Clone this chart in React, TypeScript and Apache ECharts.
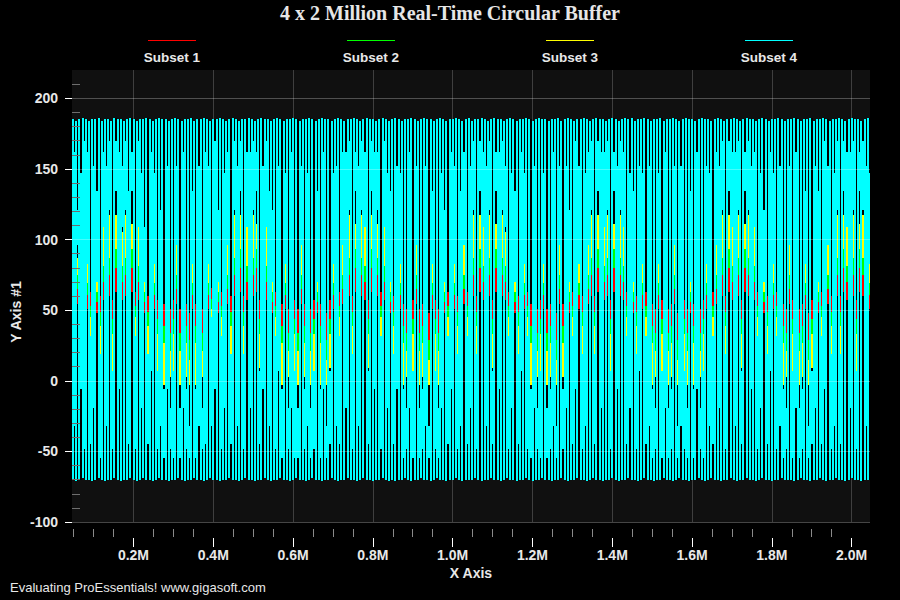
import React, { useEffect, useRef } from "react";
import * as echarts from "echarts";

// ---------- axis ranges & tick values ----------
const X_MIN = 46000;
const X_MAX = 2046000;
const STEP = 8000; // one drawn column group per 8000 samples

const xMajorTicks = [200000, 400000, 600000, 800000, 1000000, 1200000, 1400000, 1600000, 1800000, 2000000];
const xMinorTicks = [
  50000, 100000, 150000, 250000, 300000, 350000, 450000, 500000, 550000, 650000, 700000, 750000,
  850000, 900000, 950000, 1050000, 1100000, 1150000, 1250000, 1300000, 1350000, 1450000, 1500000,
  1550000, 1650000, 1700000, 1750000, 1850000, 1900000, 1950000,
];
const yMajorTicks = [-100, -50, 0, 50, 100, 150, 200];
const yMinorTicks = [
  -90, -80, -70, -60, -40, -30, -20, -10, 10, 20, 30, 40, 60, 70, 80, 90, 110, 120, 130, 140, 160,
  170, 180, 190, 210,
];

const seriesNames = ["Subset 1", "Subset 2", "Subset 3", "Subset 4"];
const seriesColors = ["#ff0000", "#00ff00", "#ffff00", "#00ffff"];

// ---------- Subset 4 (cyan) envelope of each full column ----------
const cyanMax = [
  185,184,185,186,185,184,185,185,186,184,185,185,184,186,185,185,184,185,186,185,184,185,185,186,185,
  184,185,186,185,185,184,185,186,185,184,185,185,186,184,185,185,186,185,184,185,185,186,185,184,185,
  186,185,184,185,185,186,185,184,185,186,185,185,184,185,186,185,184,185,185,186,185,184,185,185,186,
  185,184,185,186,185,185,184,185,186,185,184,185,185,186,185,184,185,186,185,185,184,185,186,185,184,
  185,186,185,184,185,185,186,185,184,185,186,185,185,184,185,186,185,184,185,185,186,185,184,185,186,
  184,185,185,186,185,184,185,186,185,185,184,185,186,185,184,185,185,186,185,184,185,186,185,185,184,
  185,185,186,184,185,186,185,184,185,185,186,185,184,185,186,185,185,184,185,186,185,184,185,186,185,
  186,184,185,185,186,185,184,185,185,186,184,185,185,186,185,184,185,186,185,185,184,185,186,185,185,
  184,185,186,185,184,185,185,186,185,184,185,186,185,185,184,185,186,185,184,185,185,186,185,184,185,
  185,186,185,184,185,185,186,184,185,185,186,185,184,185,185,186,185,184,185,186,185,185,184,185,186,
];
const cyanMin = [
  -70,-71,-70,-69,-70,-70,-71,-70,-69,-70,-71,-70,-70,-69,-70,-71,-70,-70,-69,-70,-71,-70,-69,-70,-70,
  -71,-70,-69,-70,-70,-71,-70,-70,-69,-70,-71,-70,-70,-69,-70,-70,-71,-70,-69,-70,-70,-71,-70,-70,-69,
  -70,-70,-71,-70,-69,-70,-70,-71,-70,-70,-69,-70,-71,-70,-70,-69,-70,-70,-71,-70,-69,-70,-70,-71,-70,
  -69,-70,-70,-71,-70,-70,-69,-70,-71,-70,-70,-69,-70,-70,-71,-70,-69,-70,-70,-71,-70,-70,-69,-70,-71,
  -70,-71,-70,-70,-69,-70,-71,-70,-70,-69,-70,-70,-71,-70,-69,-70,-70,-71,-70,-70,-69,-70,-71,-70,-70,
  -70,-69,-70,-71,-70,-70,-69,-70,-70,-71,-70,-69,-70,-70,-71,-70,-70,-69,-70,-71,-70,-70,-69,-70,-70,
  -71,-70,-70,-69,-70,-71,-70,-70,-69,-70,-70,-71,-70,-69,-70,-70,-71,-70,-70,-69,-70,-71,-70,-70,-69,
  -70,-70,-71,-70,-69,-70,-70,-71,-70,-70,-69,-70,-70,-71,-70,-69,-70,-70,-71,-70,-70,-69,-70,-71,-70,
  -69,-70,-70,-71,-70,-70,-69,-70,-71,-70,-70,-69,-70,-70,-71,-70,-69,-70,-70,-71,-70,-70,-69,-70,-70,
  -70,-71,-70,-69,-70,-70,-71,-70,-70,-69,-70,-71,-70,-70,-69,-70,-70,-71,-70,-69,-70,-70,-71,-70,-70,
];

// ---------- partial (between-column) coverage of each subset ----------
const cyanGapLo = [
  -32,96,-6,-48,83,-45,-19,70,-55,109, -32,121,-48,134,-6,109,121,-45,134,-48,
  109,-19,70,-45,7,83,-48,-32,-55,-6, -48,-55,96,-55,-19,-48,-55,83,-55,-32,
  -48,-45,83,-32,-6,70,-48,-19,96,-45, 121,-32,134,-48,109,-19,121,134,-45,-6,
  109,-32,70,-48,7,-55,83,-48,-19,-55, -55,96,-48,-32,-55,-48,70,-55,-6,-55,
  -45,83,-32,-45,96,-19,121,-48,134,-32, 121,109,-45,134,-6,121,-48,109,-19,70,
  -45,-6,83,-55,-48,-19,-55,96,-55,-48, -32,-55,83,-48,-55,-19,70,-45,-6,83,
  -48,-32,96,-45,-19,121,-48,134,109,-32, 121,-45,134,-6,121,109,-48,-19,70,-45,
  7,83,-48,-55,-19,-48,-55,83,-55,-48, -32,-55,96,-48,-19,70,-45,-6,83,-48,
  -32,96,121,-45,134,-19,109,121,-48,134, -6,121,109,-45,-19,70,-48,7,83,-45,
  -32,-55,-48,83,-55,-19,-55,-48,96,-55, -32,-48,-55,70,-55,-6,-48,-55,83,-32,
  -45,96,-19,121,-48,134,109,-32,121,-45, 134,121,-6,109,-48,-19,70,-45,7,83,
  -48,-32,-55,-48,96,-55,-19,-55,-48,83, -55,-45,-19,70,-45,-6,96,-48,-32,121,
  -45,134,109,-19,121,-48,134,121,-32,83,
];
const cyanGapHi = [
  162,121,147,170,162,32,152,134,19,162, 152,170,7,170,162,152,170,134,162,32,
  170,147,109,19,162,147,7,121,-6,152, -19,7,152,-19,162,-6,-32,134,-6,152,
  -19,162,152,45,170,121,32,147,162,19, 170,152,170,19,162,162,170,162,7,152,
  170,134,121,32,152,-6,147,-19,162,7, -19,152,-6,147,-19,7,134,-6,162,-32,
  7,147,152,32,162,162,170,19,162,152, 170,162,7,170,162,162,32,170,147,134,
  19,152,147,-6,-19,162,7,152,-19,-6, 152,-32,134,7,-19,147,121,32,162,152,
  19,134,162,32,152,170,19,170,162,152, 170,7,162,162,170,152,32,147,134,19,
  162,147,32,-6,152,-19,7,147,-19,-6, 162,-32,152,-6,152,121,32,170,152,19,
  147,162,170,19,170,162,162,170,7,162, 152,170,162,32,147,134,19,152,147,32,
  152,-6,-19,147,7,162,-19,-6,152,-32, 152,7,-19,134,-6,162,-19,7,152,147,
  32,162,152,170,19,170,162,162,170,7, 162,170,152,162,32,147,121,19,162,147,
  32,152,-6,-19,152,7,162,-19,-6,134, -32,7,152,134,32,170,152,19,147,170,
  19,170,162,162,170,7,162,170,152,147,
];
const yellowLo = [
  15,75,27,3,69,9,21,63,-3,81, 15,87,3,93,27,81,87,9,93,3,
  81,21,63,9,33,69,3,15,-3,27, 3,-3,75,-3,21,3,-3,69,-3,15,
  3,9,69,15,27,63,3,21,75,9, 87,15,93,3,81,21,87,93,9,27,
  81,15,63,3,33,-3,69,3,21,-3, -3,75,3,15,-3,3,63,-3,27,-3,
  9,69,15,9,75,21,87,3,93,15, 87,81,9,93,27,87,3,81,21,63,
  9,27,69,-3,3,21,-3,75,-3,3, 15,-3,69,3,-3,21,63,9,27,69,
  3,15,75,9,21,87,3,93,81,15, 87,9,93,27,87,81,3,21,63,9,
  33,69,3,-3,21,3,-3,69,-3,3, 15,-3,75,3,21,63,9,27,69,3,
  15,75,87,9,93,21,81,87,3,93, 27,87,81,9,21,63,3,33,69,9,
  15,-3,3,69,-3,21,-3,3,75,-3, 15,3,-3,63,-3,27,3,-3,69,15,
  9,75,21,87,3,93,81,15,87,9, 93,87,27,81,3,21,63,9,33,69,
  3,15,-3,3,75,-3,21,-3,3,69, -3,9,21,63,9,27,75,3,15,87,
  9,93,81,21,87,3,93,87,15,69,
];
const yellowHi = [
  111,87,99,117,111,45,105,93,39,111, 105,117,33,117,111,105,117,93,111,45,
  117,99,81,39,111,99,33,87,27,105, 21,33,105,21,111,27,15,93,27,105,
  21,111,105,51,117,87,45,99,111,39, 117,105,117,39,111,111,117,111,33,105,
  117,93,87,45,105,27,99,21,111,33, 21,105,27,99,21,33,93,27,111,15,
  33,99,105,45,111,111,117,39,111,105, 117,111,33,117,111,111,45,117,99,93,
  39,105,99,27,21,111,33,105,21,27, 105,15,93,33,21,99,87,45,111,105,
  39,93,111,45,105,117,39,117,111,105, 117,33,111,111,117,105,45,99,93,39,
  111,99,45,27,105,21,33,99,21,27, 111,15,105,27,105,87,45,117,105,39,
  99,111,117,39,117,111,111,117,33,111, 105,117,111,45,99,93,39,105,99,45,
  105,27,21,99,33,111,21,27,105,15, 105,33,21,93,27,111,21,33,105,99,
  45,111,105,117,39,117,111,111,117,33, 111,117,105,111,45,99,87,39,111,99,
  45,105,27,21,105,33,111,21,27,93, 15,33,105,93,45,117,105,39,99,117,
  39,117,111,111,117,33,111,117,105,99,
];
const greenLo = [
  23,65,33,14,61,19,28,56,9,70, 23,75,14,80,33,70,75,19,80,14,
  70,28,56,19,38,61,14,23,9,33, 14,9,65,9,28,14,9,61,9,23,
  14,19,61,23,33,56,14,28,65,19, 75,23,80,14,70,28,75,80,19,33,
  70,23,56,14,38,9,61,14,28,9, 9,65,14,23,9,14,56,9,33,9,
  19,61,23,19,65,28,75,14,80,23, 75,70,19,80,33,75,14,70,28,56,
  19,33,61,9,14,28,9,65,9,14, 23,9,61,14,9,28,56,19,33,61,
  14,23,65,19,28,75,14,80,70,23, 75,19,80,33,75,70,14,28,56,19,
  38,61,14,9,28,14,9,61,9,14, 23,9,65,14,28,56,19,33,61,14,
  23,65,75,19,80,28,70,75,14,80, 33,75,70,19,28,56,14,38,61,19,
  23,9,14,61,9,28,9,14,65,9, 23,14,9,56,9,33,14,9,61,23,
  19,65,28,75,14,80,70,23,75,19, 80,75,33,70,14,28,56,19,38,61,
  14,23,9,14,65,9,28,9,14,61, 9,19,28,56,19,33,65,14,23,75,
  19,80,70,28,75,14,80,75,23,61,
];
const greenHi = [
  100,81,91,105,100,53,95,86,49,100, 95,105,44,105,100,95,105,86,100,53,
  105,91,76,49,100,91,44,81,39,95, 34,44,95,34,100,39,29,86,39,95,
  34,100,95,58,105,81,53,91,100,49, 105,95,105,49,100,100,105,100,44,95,
  105,86,81,53,95,39,91,34,100,44, 34,95,39,91,34,44,86,39,100,29,
  44,91,95,53,100,100,105,49,100,95, 105,100,44,105,100,100,53,105,91,86,
  49,95,91,39,34,100,44,95,34,39, 95,29,86,44,34,91,81,53,100,95,
  49,86,100,53,95,105,49,105,100,95, 105,44,100,100,105,95,53,91,86,49,
  100,91,53,39,95,34,44,91,34,39, 100,29,95,39,95,81,53,105,95,49,
  91,100,105,49,105,100,100,105,44,100, 95,105,100,53,91,86,49,95,91,53,
  95,39,34,91,44,100,34,39,95,29, 95,44,34,86,39,100,34,44,95,91,
  53,100,95,105,49,105,100,100,105,44, 100,105,95,100,53,91,81,49,100,91,
  53,95,39,34,95,44,100,34,39,86, 29,44,95,86,53,105,95,49,91,105,
  49,105,100,100,105,44,100,105,95,91,
];
const redLo = [
  36,54,42,30,51,33,39,48,27,57, 36,60,30,63,42,57,60,33,63,30,
  57,39,48,33,45,51,30,36,27,42, 30,27,54,27,39,30,27,51,27,36,
  30,33,51,36,42,48,30,39,54,33, 60,36,63,30,57,39,60,63,33,42,
  57,36,48,30,45,27,51,30,39,27, 27,54,30,36,27,30,48,27,42,27,
  33,51,36,33,54,39,60,30,63,36, 60,57,33,63,42,60,30,57,39,48,
  33,42,51,27,30,39,27,54,27,30, 36,27,51,30,27,39,48,33,42,51,
  30,36,54,33,39,60,30,63,57,36, 60,33,63,42,60,57,30,39,48,33,
  45,51,30,27,39,30,27,51,27,30, 36,27,54,30,39,48,33,42,51,30,
  36,54,60,33,63,39,57,60,30,63, 42,60,57,33,39,48,30,45,51,33,
  36,27,30,51,27,39,27,30,54,27, 36,30,27,48,27,42,30,27,51,36,
  33,54,39,60,30,63,57,36,60,33, 63,60,42,57,30,39,48,33,45,51,
  30,36,27,30,54,27,39,27,30,51, 27,33,39,48,33,42,54,30,36,60,
  33,63,57,39,60,30,63,60,36,51,
];
const redHi = [
  84,72,78,87,84,63,81,75,60,84, 81,87,57,87,84,81,87,75,84,63,
  87,78,69,60,84,78,57,72,54,81, 51,57,81,51,84,54,48,75,54,81,
  51,84,81,66,87,72,63,78,84,60, 87,81,87,60,84,84,87,84,57,81,
  87,75,72,63,81,54,78,51,84,57, 51,81,54,78,51,57,75,54,84,48,
  57,78,81,63,84,84,87,60,84,81, 87,84,57,87,84,84,63,87,78,75,
  60,81,78,54,51,84,57,81,51,54, 81,48,75,57,51,78,72,63,84,81,
  60,75,84,63,81,87,60,87,84,81, 87,57,84,84,87,81,63,78,75,60,
  84,78,63,54,81,51,57,78,51,54, 84,48,81,54,81,72,63,87,81,60,
  78,84,87,60,87,84,84,87,57,84, 81,87,84,63,78,75,60,81,78,63,
  81,54,51,78,57,84,51,54,81,48, 81,57,51,75,54,84,51,57,81,78,
  63,84,81,87,60,87,84,84,87,57, 84,87,81,84,63,78,72,60,84,78,
  63,81,54,51,81,57,84,51,54,75, 48,57,81,75,63,87,81,60,78,87,
  60,87,84,84,87,57,84,87,81,78,
];

const FONT = "'Liberation Sans', Arial, Helvetica, sans-serif";
const TEXT = "#e8e8e8";
const BAR_PX = 2; // width of a full-swing column, in pixels

function columnEdges(api: any, x0: number) {
  const L = Math.round(api.coord([x0, 0])[0]);
  const R = Math.round(api.coord([x0 + STEP, 0])[0]);
  return [L, R];
}
function vRect(api: any, x: number, w: number, lo: number, hi: number, fill: string) {
  const yTop = Math.round(api.coord([X_MIN, hi])[1]);
  const yBot = Math.round(api.coord([X_MIN, lo])[1]);
  return {
    type: "rect",
    shape: { x, y: yTop, width: Math.max(1, w), height: Math.max(1, yBot - yTop) },
    style: { fill, stroke: null },
  };
}

export default function App() {
  const ref = useRef<HTMLDivElement>(null);

  useEffect(() => {
    document.body.style.margin = "0";
    document.body.style.background = "#000";
    if (!ref.current) return;
    const chart = echarts.init(ref.current, null, { renderer: "svg", width: 900, height: 600 });

    const xs = cyanGapLo.map((_, k) => X_MIN + k * STEP);
    const backdropData = xs.map((x, k) => [x, cyanMin[k], cyanMax[k]]);
    const redData = xs.map((x, k) => [x, redLo[k], redHi[k]]);
    const greenData = xs.map((x, k) => [x, greenLo[k], greenHi[k]]);
    const yellowData = xs.map((x, k) => [x, yellowLo[k], yellowHi[k]]);
    const cyanData = xs.map((x, k) => [x, cyanMin[k], cyanMax[k], cyanGapLo[k], cyanGapHi[k]]);

    const gapSeries = (name: string, color: string, data: number[][]) => ({
      type: "custom",
      name,
      silent: true,
      z: 3,
      clip: true,
      encode: { x: 0, y: [1, 2] },
      data,
      renderItem: (_p: any, api: any) => {
        const [L, R] = columnEdges(api, api.value(0));
        return vRect(api, L + BAR_PX, R - L - BAR_PX, api.value(1), api.value(2), color);
      },
    });

    const legendGraphics: any[] = [];
    const legendCenters = [172, 371, 570, 769];
    seriesNames.forEach((n, i) => {
      const cx = legendCenters[i];
      legendGraphics.push({
        type: "line",
        shape: { x1: cx - 24, y1: 40.5, x2: cx + 24, y2: 40.5 },
        style: { stroke: seriesColors[i], lineWidth: 1 },
      });
      legendGraphics.push({
        type: "text",
        x: cx,
        y: 57,
        style: {
          text: n,
          fill: TEXT,
          font: `bold 13.5px ${FONT}`,
          align: "center",
          verticalAlign: "middle",
        },
      });
    });

    const option: any = {
      animation: false,
      backgroundColor: "#000000",
      title: {
        text: "4 x 2 Million Real-Time Circular Buffer",
        left: "center",
        top: 3,
        padding: 0,
        textStyle: {
          fontFamily: "'Liberation Serif', 'Times New Roman', serif",
          fontWeight: "bold",
          fontSize: 20,
          color: "#e6e6e6",
        },
      },
      grid: {
        left: 72,
        right: 30,
        top: 70,
        bottom: 78,
        show: true,
        backgroundColor: "#101010",
        borderWidth: 0,
      },
      xAxis: [
        {
          type: "value",
          min: X_MIN,
          max: X_MAX,
          splitNumber: 10,
          position: "bottom",
          offset: 16,
          z: 2,
          axisLine: { show: false, onZero: false },
          axisTick: {
            show: true,
            inside: false,
            length: 9,
            lineStyle: { color: "#ffffff", width: 1 },
            customValues: xMajorTicks,
          },
          axisLabel: {
            customValues: xMajorTicks,
            formatter: (v: number) => (v / 1000000).toFixed(1) + "M",
            color: TEXT,
            fontWeight: "bold",
            fontSize: 14,
            fontFamily: FONT,
            margin: 10,
          },
          splitLine: { show: true, lineStyle: { color: "rgba(255,255,255,0.2)", width: 1 } },
        },
        {
          type: "value",
          min: X_MIN,
          max: X_MAX,
          splitNumber: 40,
          position: "bottom",
          offset: 7,
          z: 2,
          axisLine: { show: false, onZero: false },
          axisTick: {
            show: true,
            inside: false,
            length: 8,
            lineStyle: { color: "#8a8a8a", width: 1 },
            customValues: xMinorTicks,
          },
          axisLabel: { show: false, customValues: xMinorTicks },
          splitLine: { show: false },
        },
      ],
      yAxis: [
        {
          type: "value",
          min: -100,
          max: 220,
          position: "left",
          z: 5,
          axisLine: { show: false, onZero: false },
          axisTick: {
            show: true,
            length: 7,
            lineStyle: { color: "#ffffff", width: 1 },
            customValues: yMajorTicks,
          },
          axisLabel: {
            customValues: yMajorTicks,
            color: TEXT,
            fontWeight: "bold",
            fontSize: 14,
            fontFamily: FONT,
            margin: 14,
          },
          splitLine: { show: true, lineStyle: { color: "rgba(255,255,255,0.27)", width: 1 } },
        },
        {
          type: "value",
          min: -100,
          max: 220,
          splitNumber: 32,
          position: "left",
          z: 5,
          axisLine: { show: false, onZero: false },
          axisTick: {
            show: true,
            inside: true,
            length: 8,
            lineStyle: { color: "#6e6e6e", width: 1 },
            customValues: yMinorTicks,
          },
          axisLabel: { show: false, customValues: yMinorTicks },
          splitLine: { show: false },
        },
      ],
      graphic: [
        ...legendGraphics,
        {
          type: "text",
          x: 16,
          y: 312,
          rotation: Math.PI / 2,
          style: {
            text: "Y Axis #1",
            fill: TEXT,
            font: `bold 14px ${FONT}`,
            align: "center",
            verticalAlign: "middle",
          },
        },
        {
          type: "text",
          x: 471,
          y: 573,
          style: {
            text: "X Axis",
            fill: TEXT,
            font: `bold 14px ${FONT}`,
            align: "center",
            verticalAlign: "middle",
          },
        },
        {
          type: "text",
          x: 10,
          y: 587,
          style: {
            text: "Evaluating ProEssentials! www.gigasoft.com",
            fill: TEXT,
            font: `13px ${FONT}`,
            align: "left",
            verticalAlign: "middle",
          },
        },
      ],
      series: [
        {
          type: "custom",
          name: "backdrop",
          silent: true,
          z: 1,
          clip: true,
          encode: { x: 0, y: [1, 2] },
          data: backdropData,
          renderItem: (_p: any, api: any) => {
            const [L, R] = columnEdges(api, api.value(0));
            return vRect(api, L, R - L, api.value(1), api.value(2), "#000000");
          },
        },
        gapSeries(seriesNames[0], seriesColors[0], redData),
        gapSeries(seriesNames[1], seriesColors[1], greenData),
        gapSeries(seriesNames[2], seriesColors[2], yellowData),
        {
          type: "custom",
          name: seriesNames[3],
          silent: true,
          z: 3,
          clip: true,
          encode: { x: 0, y: [1, 2, 3, 4] },
          data: cyanData,
          renderItem: (_p: any, api: any) => {
            const [L, R] = columnEdges(api, api.value(0));
            const c = seriesColors[3];
            return {
              type: "group",
              children: [
                vRect(api, L, BAR_PX, api.value(1), api.value(2), c),
                vRect(api, L + BAR_PX, R - L - BAR_PX, api.value(3), api.value(4), c),
              ],
            };
          },
        },
      ],
    };

    chart.setOption(option);
    return () => chart.dispose();
  }, []);

  return <div ref={ref} style={{ width: 900, height: 600, background: "#000" }} />;
}
